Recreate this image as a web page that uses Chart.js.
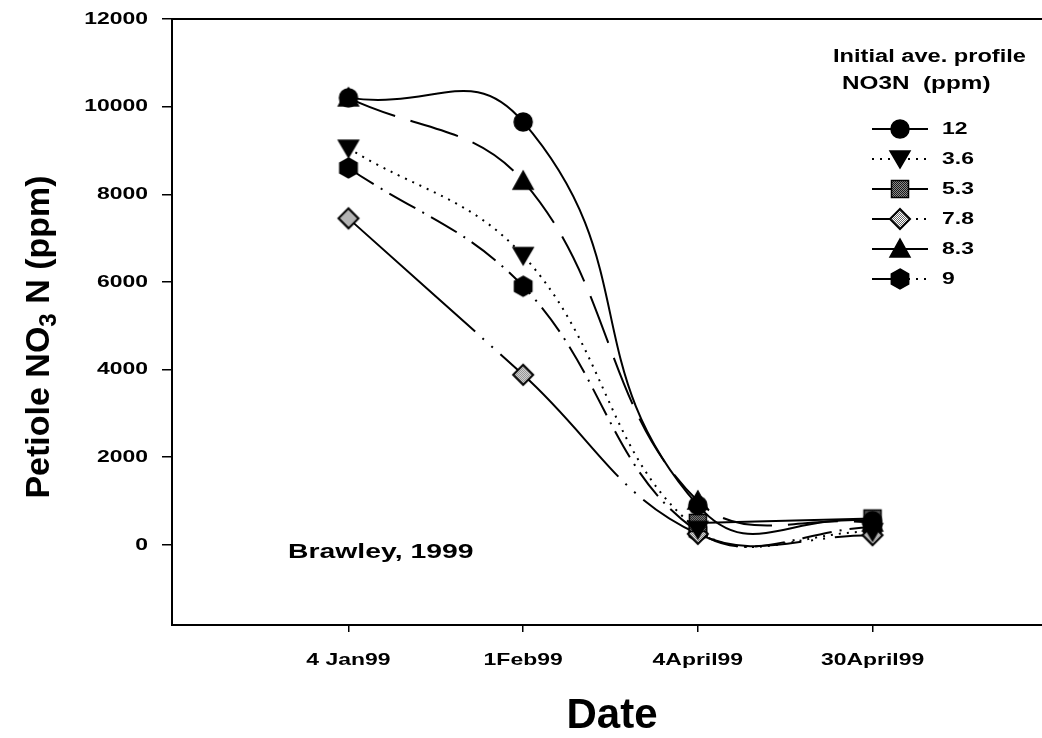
<!DOCTYPE html>
<html>
<head>
<meta charset="utf-8">
<title>Petiole NO3 N - Brawley 1999</title>
<script src="https://cdn.jsdelivr.net/npm/chart.js@4.4.1/dist/chart.umd.min.js"></script>
<style>
  html, body { margin: 0; padding: 0; background: #fff; }
  #wrap { width: 1042px; height: 738px; }
</style>
</head>
<body>
<div id="wrap"><canvas id="chart" width="1042" height="738"></canvas></div>
<script>
// --- data ---
const dateLabels    = ['4 Jan99', '1Feb99', '4April99', '30April99'];
const profileLevels = ['12', '3.6', '5.3', '7.8', '8.3', '9'];
const yTickValues   = [0, 2000, 4000, 6000, 8000, 10000, 12000];

const no3_12  = [10200, 9650, 900, 550];
const no3_3_6 = [9050, 6600, 350, 300];
const no3_5_3 = [null, null, 500, 600];
const no3_7_8 = [7450, 3880, 250, 220];
const no3_8_3 = [10200, 8300, 1000, 500];
const no3_9   = [8600, 5900, 300, 400];

const seriesValues = [no3_12, no3_3_6, no3_5_3, no3_7_8, no3_8_3, no3_9];

// line / marker look per series (legend draws left half + right half of the sample)
const seriesStyle = [
  { marker: 'circle',  dash: [],                     tension: 0.5, legendDash: [[], []] },
  { marker: 'triDown', dash: [2, 6],                 tension: 0.4, legendDash: [[2, 6], [2, 6]] },
  { marker: 'square',  dash: [],                     tension: 0.4, legendDash: [[], []] },
  { marker: 'diamond', dash: [170, 10, 2, 10, 2, 10], tension: 0.4, legendDash: [[], [2, 6]] },
  { marker: 'triUp',   dash: [50, 16],               tension: 0.4, legendDash: [[], []] },
  { marker: 'hexagon', dash: [30, 8, 2, 8],          tension: 0.4, legendDash: [[], [2, 6]] },
];

const FONT = '"Liberation Sans", Arial, sans-serif';
const STRETCH = 1.35;   // scanned figure has wide lettering

// small stipple fill used for the square / diamond markers
function stipple(g, base, dot) {
  const p = document.createElement('canvas');
  p.width = p.height = 2;
  const pg = p.getContext('2d');
  pg.fillStyle = base; pg.fillRect(0, 0, 2, 2);
  pg.fillStyle = dot;  pg.fillRect(0, 0, 1, 1); pg.fillRect(1, 1, 1, 1);
  return g.createPattern(p, 'repeat');
}

function makeMarker(shape) {
  const size = 26, m = size / 2;
  const c = document.createElement('canvas');
  c.width = c.height = size;
  const g = c.getContext('2d');
  g.fillStyle = '#000';
  g.strokeStyle = '#000';
  g.lineWidth = 1.5;
  g.beginPath();
  if (shape === 'circle') {
    g.arc(m, m, 9, 0, Math.PI * 2);
  } else if (shape === 'triDown') {
    g.moveTo(m - 10, m - 8); g.lineTo(m + 10, m - 8); g.lineTo(m, m + 9);
  } else if (shape === 'triUp') {
    g.moveTo(m - 10, m + 8); g.lineTo(m + 10, m + 8); g.lineTo(m, m - 10);
  } else if (shape === 'square') {
    g.rect(m - 8.5, m - 8.5, 17, 17);
    g.fillStyle = stipple(g, '#1a1a1a', '#8a8a8a');
  } else if (shape === 'diamond') {
    g.moveTo(m, m - 10); g.lineTo(m + 10, m); g.lineTo(m, m + 10); g.lineTo(m - 10, m);
    g.fillStyle = stipple(g, '#ffffff', '#6a6a6a');
    g.lineWidth = 2;
  } else if (shape === 'hexagon') {
    for (let k = 0; k < 6; k++) {
      const a = (-90 + 60 * k) * Math.PI / 180;
      k ? g.lineTo(m + 10 * Math.cos(a), m + 10 * Math.sin(a))
        : g.moveTo(m + 10 * Math.cos(a), m + 10 * Math.sin(a));
    }
  }
  g.closePath();
  g.fill();
  g.stroke();
  return c;
}

const markers = seriesStyle.map(s => makeMarker(s.marker));

function drawText(ctx, text, x, y, size, align, sx) {
  ctx.save();
  ctx.font = `bold ${size}px ${FONT}`;
  ctx.fillStyle = '#000';
  ctx.textBaseline = 'middle';
  ctx.textAlign = align;
  ctx.translate(x, y);
  ctx.scale(sx, 1);
  ctx.fillText(text, 0, 0);
  ctx.restore();
}

// tick labels, titles, note, legend and the top frame line
const figureText = {
  id: 'figureText',
  afterDraw(chart) {
    const ctx = chart.ctx;
    const { x: xs, y: ys } = chart.scales;
    const area = chart.chartArea;

    ctx.save();
    ctx.strokeStyle = '#000';
    ctx.lineWidth = 2;
    ctx.beginPath();
    ctx.moveTo(area.left, area.top);
    ctx.lineTo(area.right, area.top);
    ctx.stroke();
    ctx.restore();

    ys.ticks.forEach(t => drawText(ctx, String(t.value), 148, ys.getPixelForValue(t.value), 17, 'right', STRETCH));
    xs.ticks.forEach(t => drawText(ctx, dateLabels[t.value], xs.getPixelForValue(t.value), 660, 17, 'center', STRETCH));

    // x title
    drawText(ctx, 'Date', 612, 716, 42, 'center', 1);

    // y title with subscript 3
    ctx.save();
    ctx.translate(37, 337);
    ctx.rotate(-Math.PI / 2);
    ctx.fillStyle = '#000';
    ctx.textBaseline = 'alphabetic';
    const big = `bold 34px ${FONT}`, small = `bold 24px ${FONT}`;
    const parts = [['Petiole NO', big, 0], ['3', small, 7], [' N (ppm)', big, 0]];
    let total = 0;
    parts.forEach(p => { ctx.font = p[1]; total += ctx.measureText(p[0]).width; });
    let cx = -total / 2;
    parts.forEach(p => {
      ctx.font = p[1];
      ctx.fillText(p[0], cx, 12 + p[2]);
      cx += ctx.measureText(p[0]).width;
    });
    ctx.restore();

    drawText(ctx, 'Brawley, 1999', 288, 552, 21, 'left', STRETCH);

    // legend
    drawText(ctx, 'Initial ave. profile', 833, 57, 17.5, 'left', STRETCH);
    drawText(ctx, 'NO3N  (ppm)', 842, 84, 18, 'left', STRETCH);
    profileLevels.forEach((lvl, i) => {
      const y = 129 + i * 30;
      const st = seriesStyle[i];
      ctx.save();
      ctx.strokeStyle = '#000';
      ctx.lineWidth = 2;
      [[872, 900], [900, 928]].forEach((seg, h) => {
        ctx.setLineDash(st.legendDash[h]);
        ctx.beginPath();
        ctx.moveTo(seg[0], y);
        ctx.lineTo(seg[1], y);
        ctx.stroke();
      });
      ctx.restore();
      ctx.drawImage(markers[i], 900 - markers[i].width / 2, y - markers[i].height / 2);
      drawText(ctx, lvl, 942, y, 17, 'left', STRETCH);
    });
  }
};

const datasets = seriesValues.map((vals, i) => ({
  label: profileLevels[i],
  data: vals.map((v, k) => ({ x: k, y: v })),
  borderColor: '#000',
  borderWidth: 2,
  borderDash: seriesStyle[i].dash,
  tension: seriesStyle[i].tension,
  pointStyle: markers[i],
  pointRadius: 9,
  fill: false,
}));

new Chart(document.getElementById('chart'), {
  type: 'line',
  data: { datasets },
  options: {
    responsive: false,
    animation: false,
    layout: { autoPadding: false, padding: { top: 19, left: 0, right: 0, bottom: 0 } },
    plugins: { legend: { display: false }, tooltip: { enabled: false } },
    scales: {
      x: {
        type: 'linear',
        min: -1.01,
        max: 3.97,
        afterBuildTicks: axis => { axis.ticks = dateLabels.map((_, k) => ({ value: k })); },
        afterFit: axis => { axis.height = 113; },
        grid: { drawOnChartArea: false, drawTicks: true, tickLength: 7, color: '#000', lineWidth: 1.5 },
        border: { display: true, color: '#000', width: 2 },
        ticks: { display: false },
      },
      y: {
        min: -1830,
        max: 12000,
        afterBuildTicks: axis => { axis.ticks = yTickValues.map(v => ({ value: v })); },
        afterFit: axis => { axis.width = 172; },
        grid: { drawOnChartArea: false, drawTicks: true, tickLength: 10, color: '#000', lineWidth: 1.5 },
        border: { display: true, color: '#000', width: 2 },
        ticks: { display: false },
      },
    },
  },
  plugins: [figureText],
});
</script>
</body>
</html>
